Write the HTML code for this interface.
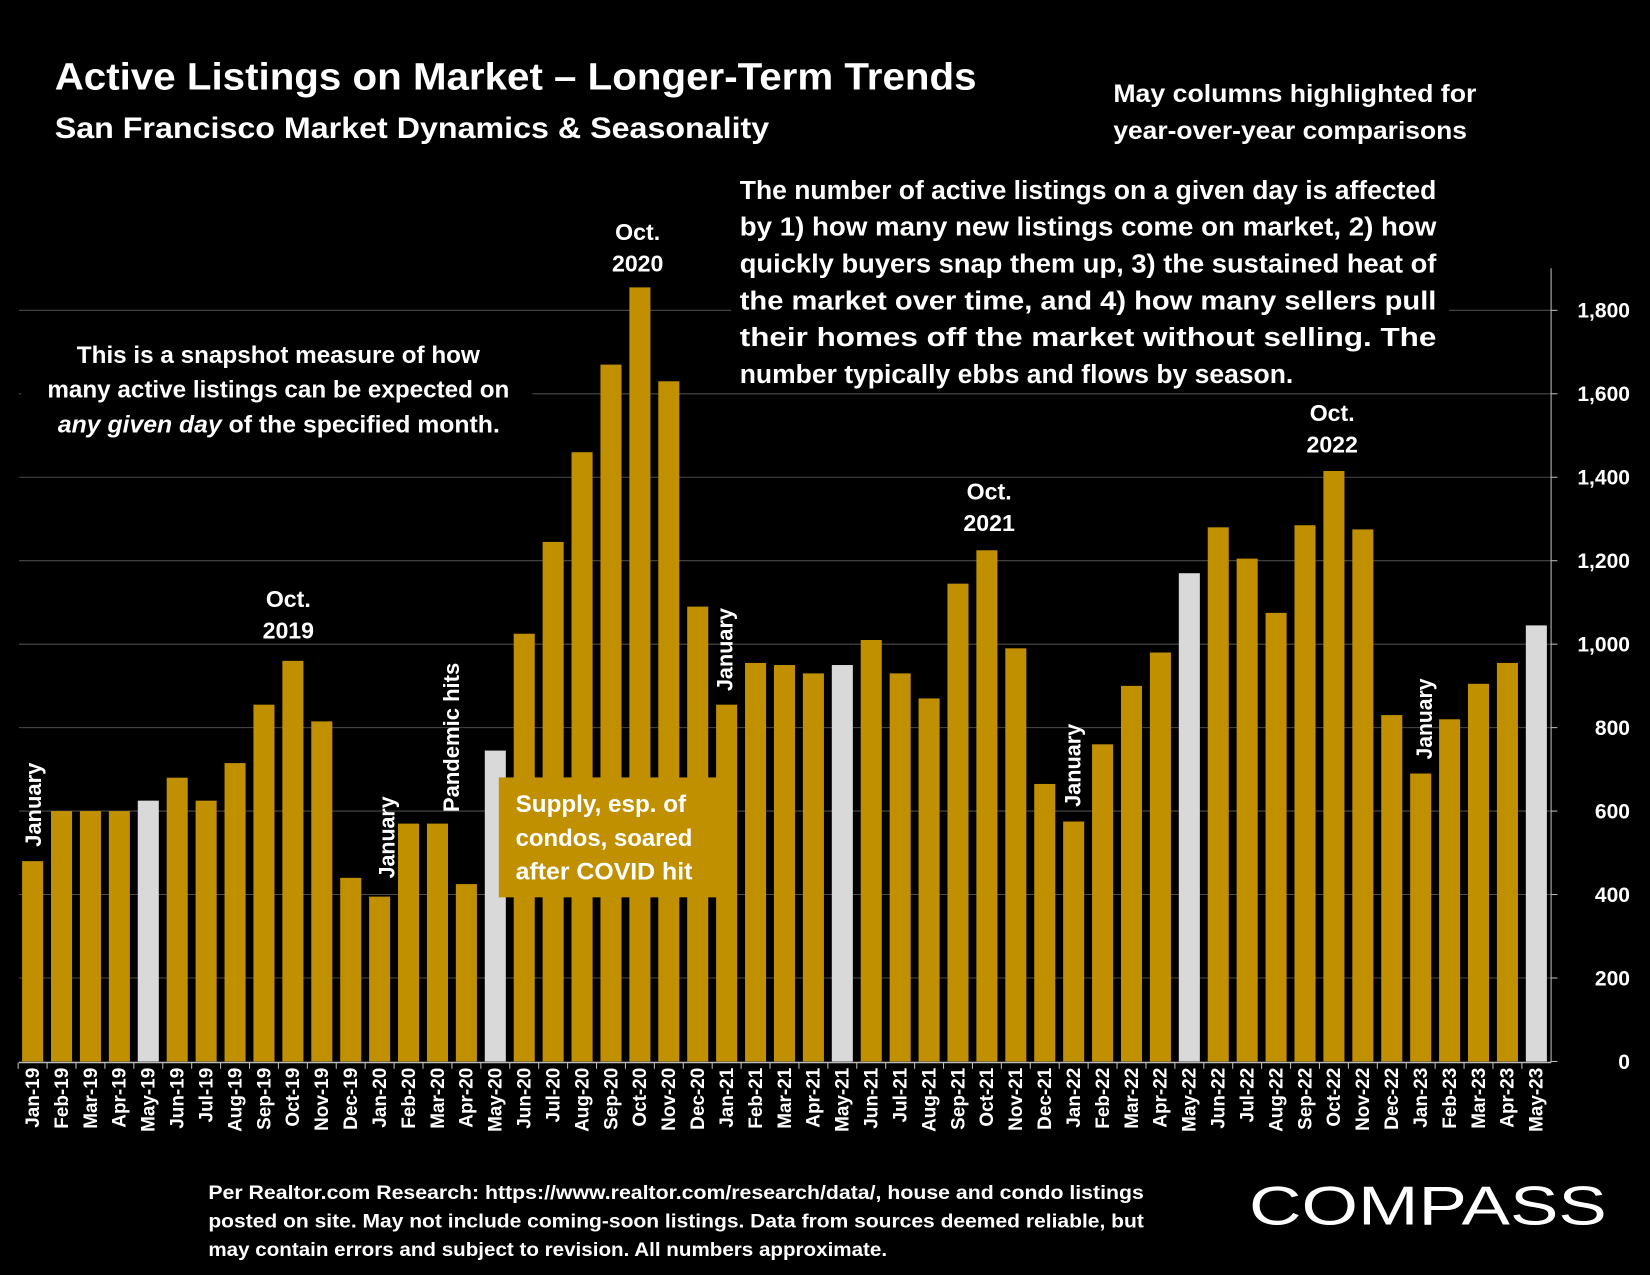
<!DOCTYPE html>
<html><head><meta charset="utf-8"><style>
html,body{margin:0;padding:0;background:#000;}
svg{display:block;font-family:"Liberation Sans",sans-serif;}
</style></head><body>
<svg id="chart" width="1650" height="1275" viewBox="0 0 1568 1212" preserveAspectRatio="none" xmlns="http://www.w3.org/2000/svg">
<rect width="1568" height="1212" fill="#000"/>
<g id="grid"></g>
<g id="bars"></g>
<g id="axes"></g>
<g id="overlays" font-weight="bold" fill="#fff">
  <text x="52" y="85" font-size="36" textLength="876" lengthAdjust="spacingAndGlyphs">Active Listings on Market – Longer-Term Trends</text>
  <text x="52" y="131" font-size="28" textLength="679" lengthAdjust="spacingAndGlyphs">San Francisco Market Dynamics &amp; Seasonality</text>
  <text font-size="24">
    <tspan x="1058" y="97" textLength="345" lengthAdjust="spacingAndGlyphs">May columns highlighted for</tspan>
    <tspan x="1058" y="132" textLength="336" lengthAdjust="spacingAndGlyphs">year-over-year comparisons</tspan>
  </text>
  <rect x="695" y="163" width="682" height="210" fill="#000"/>
  <text font-size="25">
    <tspan x="703" y="189" textLength="662" lengthAdjust="spacingAndGlyphs">The number of active listings on a given day is affected</tspan>
    <tspan x="703" y="224" textLength="662" lengthAdjust="spacingAndGlyphs">by 1) how many new listings come on market, 2) how</tspan>
    <tspan x="703" y="259" textLength="662" lengthAdjust="spacingAndGlyphs">quickly buyers snap them up, 3) the sustained heat of</tspan>
    <tspan x="703" y="294" textLength="662" lengthAdjust="spacingAndGlyphs">the market over time, and 4) how many sellers pull</tspan>
    <tspan x="703" y="329" textLength="662" lengthAdjust="spacingAndGlyphs">their homes off the market without selling. The</tspan>
    <tspan x="703" y="364" textLength="526" lengthAdjust="spacingAndGlyphs">number typically ebbs and flows by season.</tspan>
  </text>
  <rect x="20" y="315" width="486" height="105" fill="#000"/>
  <text font-size="23">
    <tspan x="73" y="345" textLength="383" lengthAdjust="spacingAndGlyphs">This is a snapshot measure of how</tspan>
    <tspan x="45" y="378" textLength="439" lengthAdjust="spacingAndGlyphs">many active listings can be expected on</tspan>
    <tspan x="55" y="411" textLength="420" lengthAdjust="spacingAndGlyphs"><tspan font-style="italic">any given day</tspan> of the specified month.</tspan>
  </text>
  <g font-size="22" text-anchor="middle">
    <text><tspan x="274" y="577">Oct.</tspan><tspan x="274" y="607">2019</tspan></text>
    <text><tspan x="606" y="228">Oct.</tspan><tspan x="606" y="258">2020</tspan></text>
    <text><tspan x="940" y="475">Oct.</tspan><tspan x="940" y="505">2021</tspan></text>
    <text><tspan x="1266" y="400">Oct.</tspan><tspan x="1266" y="430">2022</tspan></text>
  </g>
  <g font-size="21">
    <text transform="translate(39,805) rotate(-90)" textLength="80" lengthAdjust="spacingAndGlyphs">January</text>
    <text transform="translate(375,835) rotate(-90)" textLength="78" lengthAdjust="spacingAndGlyphs">January</text>
    <text transform="translate(696,657) rotate(-90)" textLength="79" lengthAdjust="spacingAndGlyphs">January</text>
    <text transform="translate(1027,767) rotate(-90)" textLength="79" lengthAdjust="spacingAndGlyphs">January</text>
    <text transform="translate(1361,722) rotate(-90)" textLength="77" lengthAdjust="spacingAndGlyphs">January</text>
    <text transform="translate(436,772) rotate(-90)" textLength="142" lengthAdjust="spacingAndGlyphs">Pandemic hits</text>
  </g>
  <rect x="474" y="739" width="212" height="114" fill="#C09000"/>
  <text font-size="23">
    <tspan x="490" y="772" textLength="162" lengthAdjust="spacingAndGlyphs">Supply, esp. of</tspan>
    <tspan x="490" y="804" textLength="168" lengthAdjust="spacingAndGlyphs">condos, soared</tspan>
    <tspan x="490" y="836" textLength="168" lengthAdjust="spacingAndGlyphs">after COVID hit</tspan>
  </text>
  <text font-size="18">
    <tspan x="198" y="1140" textLength="889" lengthAdjust="spacingAndGlyphs">Per Realtor.com Research:  https://www.realtor.com/research/data/, house and condo listings</tspan>
    <tspan x="198" y="1167" textLength="889" lengthAdjust="spacingAndGlyphs">posted on site. May not include coming-soon listings. Data from sources deemed reliable, but</tspan>
    <tspan x="198" y="1194" textLength="645" lengthAdjust="spacingAndGlyphs">may contain errors and subject to revision. All numbers approximate.</tspan>
  </text>
  <text x="1187" y="1164" font-size="52" font-weight="normal" textLength="340" lengthAdjust="spacingAndGlyphs">COMPASS</text>
</g>
</svg>
<script>
const categories = ["Jan-19","Feb-19","Mar-19","Apr-19","May-19","Jun-19","Jul-19","Aug-19","Sep-19","Oct-19","Nov-19","Dec-19",
"Jan-20","Feb-20","Mar-20","Apr-20","May-20","Jun-20","Jul-20","Aug-20","Sep-20","Oct-20","Nov-20","Dec-20",
"Jan-21","Feb-21","Mar-21","Apr-21","May-21","Jun-21","Jul-21","Aug-21","Sep-21","Oct-21","Nov-21","Dec-21",
"Jan-22","Feb-22","Mar-22","Apr-22","May-22","Jun-22","Jul-22","Aug-22","Sep-22","Oct-22","Nov-22","Dec-22",
"Jan-23","Feb-23","Mar-23","Apr-23","May-23"];
const listings = [480,600,600,600,625,680,625,715,855,960,815,440,
395,570,570,425,745,1025,1245,1460,1670,1855,1630,1090,
855,955,950,930,950,1010,930,870,1145,1225,990,665,
575,760,900,980,1170,1280,1205,1075,1285,1415,1275,830,
690,820,905,955,1045];
const yTicks = [0,200,400,600,800,1000,1200,1400,1600,1800];
const yTickLabels = ["0","200","400","600","800","1,000","1,200","1,400","1,600","1,800"];

const NS="http://www.w3.org/2000/svg";
const y0=1009, yTop=295, vTop=1800;
function yScale(v){return y0-(v/vTop)*(y0-yTop);}
const x0=31, step=(1460-31)/52, bw=20;
function xScale(i){return x0+i*step;}
function mk(tag,attrs,parent){const e=document.createElementNS(NS,tag);for(const k in attrs)e.setAttribute(k,attrs[k]);parent.appendChild(e);return e;}

const grid=document.getElementById('grid'), bars=document.getElementById('bars'), axes=document.getElementById('axes');
yTicks.forEach((t,k)=>{
  if(t>0){
    const g=mk('line',{x1:18,x2:1474,y1:yScale(t),y2:yScale(t),stroke:'#4a4a4a','stroke-width':1},grid);
    
    
  }
  const tl=mk('text',{x:1549,y:yScale(t)+7,'text-anchor':'end','font-size':20,'font-weight':'bold',fill:'#fff'},axes);
  tl.textContent=yTickLabels[k];
  
  
  const tk=mk('line',{x1:1474,x2:1480,y1:yScale(t),y2:yScale(t),stroke:'#bbb','stroke-width':1},axes);
  
  
});
const ya=mk('line',{x1:1474,x2:1474,y1:255,y2:1010,stroke:'#bbb','stroke-width':1},axes);


const xa=mk('line',{x1:18,x2:1474,y1:1010,y2:1010,stroke:'#bbb','stroke-width':1.5},axes);



categories.forEach((c,i)=>{
  const v=listings[i];
  const isMay=c.startsWith('May');
  const r=mk('rect',{x:xScale(i)-bw/2,y:yScale(v),width:bw,height:y0-yScale(v),fill:isMay?'#D9D9D9':'#C09000'},bars);
  
  
  const tk=mk('line',{x1:xScale(i)-step/2,x2:xScale(i)-step/2,y1:1010,y2:1016,stroke:'#bbb','stroke-width':1},axes);
  
  
  const lx=xScale(i)+6;
  const t=mk('text',{transform:`translate(${lx},1015) rotate(-90)`,'text-anchor':'end','font-size':18,'font-weight':'bold',fill:'#fff'},axes);
  t.textContent=c;
  
  
});
</script>
</body></html>
